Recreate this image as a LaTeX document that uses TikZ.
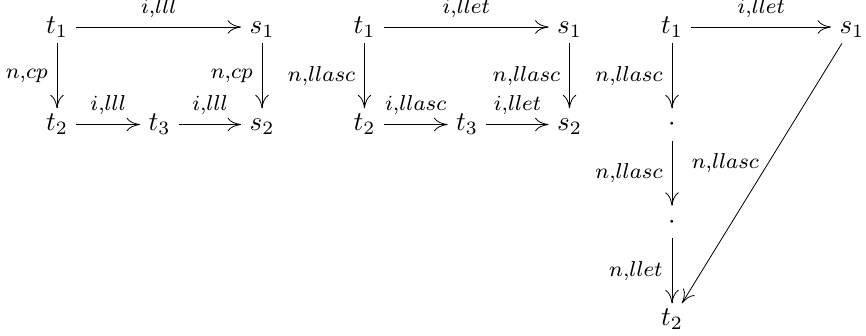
\documentclass[tikz,border=0pt]{standalone}
\usepackage{tikz}
\usetikzlibrary{arrows.meta}

\begin{document}
\begin{tikzpicture}[
    x=1.335cm, y=1.27cm, line width=0.3pt,
    obj/.style={inner xsep=3pt, inner ysep=2pt, text height=6.2pt, text depth=1.5pt},
    arr/.style={-{To[length=5pt, width=5pt]}},
    lab/.style={font=\footnotesize, midway}]

    \useasboundingbox (-0.556, 0.277) rectangle (7.893, -3.159);

    % first square
    \node [obj] (at1) at (0, 0) {$t_1$};
    \node [obj] (as1) at (2, 0) {$s_1$};
    \node [obj] (at2) at (0, -1) {$t_2$};
    \node [obj] (at3) at (1, -1) {$t_3$};
    \node [obj] (as2) at (2, -1) {$s_2$};
    \draw [arr] (at1) -- (as1) node[lab, above] {$i{,}lll$};
    \draw [arr] (at1) -- (at2) node[lab, left] {$n{,}cp$};
    \draw [arr] (as1) -- (as2) node[lab, left] {$n{,}cp$};
    \draw [arr] (at2) -- (at3) node[lab, above] {$i{,}lll$};
    \draw [arr] (at3) -- (as2) node[lab, above] {$i{,}lll$};

    % second square
    \node [obj] (bt1) at (3, 0) {$t_1$};
    \node [obj] (bs1) at (5, 0) {$s_1$};
    \node [obj] (bt2) at (3, -1) {$t_2$};
    \node [obj] (bt3) at (4, -1) {$t_3$};
    \node [obj] (bs2) at (5, -1) {$s_2$};
    \draw [arr] (bt1) -- (bs1) node[lab, above] {$i{,}llet$};
    \draw [arr] (bt1) -- (bt2) node[lab, left] {$n{,}llasc$};
    \draw [arr] (bs1) -- (bs2) node[lab, left] {$n{,}llasc$};
    \draw [arr] (bt2) -- (bt3) node[lab, above] {$i{,}llasc$};
    \draw [arr] (bt3) -- (bs2) node[lab, above] {$i{,}llet$};

    % chain
    \node [obj] (ct1) at (6, 0) {$t_1$};
    \node [obj] (cs1) at (7.756, 0) {$s_1$};
    \node [obj] (cd1) at (6, -1) {$\cdot$};
    \node [obj] (cd2) at (6, -2) {$\cdot$};
    \node [obj] (ct2) at (6, -3) {$t_2$};
    \draw [arr] (ct1) -- (cs1) node[lab, above] {$i{,}llet$};
    \foreach \a/\b/\l in {ct1/cd1/{n{,}llasc}, cd1/cd2/{n{,}llasc}, cd2/ct2/{n{,}llet}} {
      \draw [arr] (\a) -- (\b) node[lab, left] {$\l$};
    }
    \draw [arr] (cs1) -- (ct2) node[lab, left, pos=0.46] {$n{,}llasc$};

  \end{tikzpicture}
\end{document}
